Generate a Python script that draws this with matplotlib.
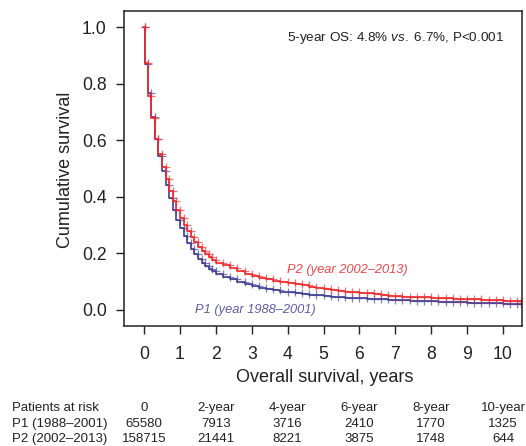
"""Kaplan-Meier overall survival, P1 vs P2 period, with patients-at-risk table."""
import matplotlib
matplotlib.use("Agg")
import matplotlib.pyplot as plt
import numpy as np

RED, BLUE = "#EE2A2E", "#3E3E92"
RED_TXT, BLUE_TXT = "#E8474B", "#5B5BAA"
plt.rcParams.update({"font.family": ["Liberation Sans", "DejaVu Sans"],
                     "mathtext.fontset": "custom",
                     "mathtext.rm": "Liberation Sans",
                     "mathtext.it": "Liberation Sans:italic"})

# survival estimates (years, cumulative survival)
t_p1 = [0.0, 0.02, 0.1, 0.2, 0.3, 0.4, 0.5, 0.6, 0.7, 0.8, 0.9, 1.0, 1.1, 1.2, 1.3, 1.4,
        1.5, 1.6, 1.7, 1.8, 1.9, 2.0, 2.2, 2.4, 2.6, 2.8, 3.0, 3.2, 3.4, 3.6, 3.8, 4.0,
        4.2, 4.4, 4.6, 4.8, 5.0, 5.2, 5.4, 5.6, 5.8, 6.0, 6.2, 6.4, 6.6, 6.8, 7.0, 7.2,
        7.4, 7.6, 7.8, 8.0, 8.2, 8.4, 8.6, 8.8, 9.0, 9.2, 9.4, 9.6, 9.8, 10.0, 10.2,
        10.4, 10.5]
s_p1 = [1.000, 0.870, 0.768, 0.683, 0.605, 0.545, 0.490, 0.440, 0.395, 0.355, 0.318,
        0.288, 0.262, 0.238, 0.216, 0.198, 0.181, 0.167, 0.155, 0.145, 0.136, 0.128,
        0.117, 0.108, 0.099, 0.091, 0.085, 0.079, 0.074, 0.069, 0.065, 0.062, 0.059,
        0.057, 0.054, 0.051, 0.048, 0.046, 0.045, 0.043, 0.042, 0.041, 0.040, 0.039,
        0.037, 0.036, 0.035, 0.034, 0.033, 0.032, 0.031, 0.030, 0.029, 0.028, 0.027,
        0.027, 0.026, 0.025, 0.024, 0.024, 0.023, 0.022, 0.022, 0.021, 0.021]

t_p2 = list(t_p1)
s_p2 = [1.000, 0.872, 0.757, 0.677, 0.605, 0.553, 0.505, 0.462, 0.420, 0.385, 0.352,
        0.325, 0.300, 0.278, 0.257, 0.240, 0.224, 0.210, 0.198, 0.187, 0.176, 0.166,
        0.157, 0.147, 0.136, 0.128, 0.120, 0.113, 0.108, 0.103, 0.098, 0.094, 0.090,
        0.087, 0.082, 0.077, 0.073, 0.070, 0.067, 0.064, 0.062, 0.060, 0.058, 0.055,
        0.052, 0.050, 0.048, 0.047, 0.046, 0.045, 0.044, 0.043, 0.042, 0.041, 0.040,
        0.039, 0.038, 0.037, 0.036, 0.035, 0.034, 0.033, 0.032, 0.031, 0.031]

risk_years = [0, 2, 4, 6, 8, 10]
risk_head = ["0", "2-year", "4-year", "6-year", "8-year", "10-year"]
risk_p1 = [65580, 7913, 3716, 2410, 1770, 1325]
risk_p2 = [158715, 21441, 8221, 3875, 1748, 644]
row_names = ["Patients at risk", "P1 (1988\u20132001)", "P2 (2002\u20132013)"]

fig = plt.figure(figsize=(5.26, 4.46), dpi=100)
ax = fig.add_axes([124/526, 1 - 326/446, 398/526, 315/446])

for t, s, c in [(t_p1, s_p1, BLUE), (t_p2, s_p2, RED)]:
    ax.step(t, s, where="post", color=c, lw=1.2)
    ax.plot(t[1:], s[:-1], "+", color=c, ms=5.5, mew=0.9, alpha=0.65, ls="none")

ax.set_xlim(-0.56, 10.53); ax.set_ylim(-0.057, 1.057)
ax.set_xticks(range(0, 11)); ax.set_yticks(np.arange(0, 1.01, 0.2))
ax.set_yticklabels([f"{v:.1f}" for v in np.arange(0, 1.01, 0.2)])
ax.tick_params(direction="out", length=6, width=1, labelsize=12.7, colors="#222222")
ax.tick_params(axis="x", pad=8.5); ax.tick_params(axis="y", pad=6.5)
for sp in ax.spines.values():
    sp.set_linewidth(1.1); sp.set_color("#222222")

ax.set_xlabel("Overall survival, years", fontsize=13, color="#222222")
ax.xaxis.set_label_coords(0.505, -0.165); ax.xaxis.label.set_va("center")
ax.set_ylabel("Cumulative survival", fontsize=13, color="#222222")
ax.yaxis.set_label_coords(-0.148, 0.495); ax.yaxis.label.set_va("center")

ax.text(10.03, 0.96, "5-year OS: 4.8% $\\mathit{vs.}$ 6.7%, P<0.001", fontsize=9.7,
        ha="right", va="center", color="#222222")
ax.text(3.98, 0.141, "P2 (year 2002\u20132013)", fontsize=9.3, style="italic",
        color=RED_TXT, ha="left", va="center")
ax.text(1.42, 0.0, "P1 (year 1988\u20132001)", fontsize=9.3, style="italic",
        color=BLUE_TXT, ha="left", va="center")

# patients-at-risk table
row_y = [408, 424.3, 439.3]
tr = ax.get_xaxis_transform()
for name, y in zip(row_names, row_y):
    fig.text(12/526, 1 - y/446, name, fontsize=9.5, ha="left", va="center", color="#222222")
for i, x in enumerate(risk_years):
    for vals, y in [(risk_head, row_y[0]), (risk_p1, row_y[1]), (risk_p2, row_y[2])]:
        ax.text(x, (326 - y)/315, str(vals[i]), transform=tr, fontsize=9.5,
                ha="center", va="center", clip_on=False, color="#222222")

fig.savefig("out.png", dpi=100, facecolor="white")
